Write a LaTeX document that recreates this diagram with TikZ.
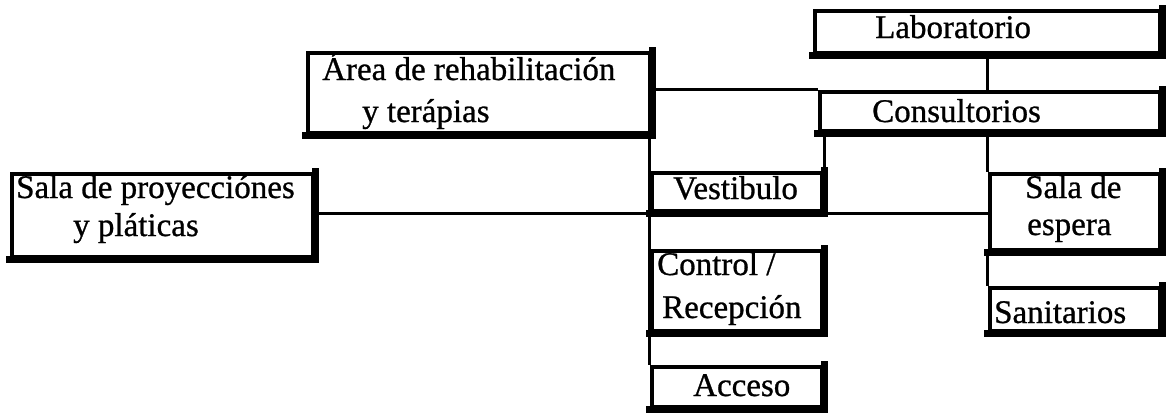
\documentclass[tikz,border=0pt]{standalone}
\usepackage{fontspec}
\setmainfont{Liberation Serif}
\newfontfamily\heavyserif{Liberation Serif}[FakeBold=0.8]
\usetikzlibrary{fit}
\tikzset{
  boxn/.style={draw, line width=4.6pt, inner sep=0pt},
  shd/.style={line width=6.5pt, line cap=rect},
  conn/.style={line width=3pt},
  lbl/.style={anchor=base west, inner sep=0pt, font=\heavyserif\fontsize{33}{38}\selectfont},
}
\newcommand\myshad[1]{\draw[shd] (#1.south west) -- (#1.south east) -- (#1.north east);}
\begin{document}
\begin{tikzpicture}[x=1pt,y=-1pt]
\useasboundingbox (0,0) rectangle (1167,418);

% boxes
\node[boxn, fit={(12,174) (313,257)}] (sala) {};
\node[boxn, fit={(308,53) (650,133)}] (area) {};
\node[boxn, fit={(815,11) (1160,53)}] (lab) {};
\node[boxn, fit={(820,92) (1160,131)}] (cons) {};
\node[boxn, fit={(652,173) (822,211)}] (vest) {};
\node[boxn, fit={(652,251) (822,331)}] (ctrl) {};
\node[boxn, fit={(652,367) (822,407)}] (acc) {};
\node[boxn, fit={(990,174) (1160,250)}] (esp) {};
\node[boxn, fit={(990,288) (1160,331)}] (san) {};

\foreach \b in {sala,area,lab,cons,vest,ctrl,acc,esp,san} {\myshad{\b}}

% connectors
\draw[conn] (area.east |- cons.north) -- (cons.north west);
\draw[conn] (lab.south) -- (lab.south |- cons.north);
\draw[conn] (vest.north east |- cons.south) -- (vest.north east);
\draw[conn] (esp.north west |- cons.south) -- (esp.north west);
\draw[conn] (esp.south west) -- (san.north west);
\draw[conn] (sala.east |- vest.south) -- (esp.west |- vest.south);
\draw[conn] (acc.north west |- area.south) -- (acc.north west);

% labels
\node[lbl] (tsala1) at (16,198) {Sala de proyecciónes};
\node[lbl] (tsala2) at (73,236) {y pláticas};
\node[lbl] (tarea1) at (322,80) {Área de rehabilitación};
\node[lbl] (tarea2) at (362,122) {y terápias};
\node[lbl] (tlab) at (875,38) {Laboratorio};
\node[lbl] (tcons) at (872,122) {Consultorios};
\node[lbl] (tvest) at (673,199) {Vestibulo};
\node[lbl] (tctrl1) at (657,275) {Control /};
\node[lbl] (tctrl2) at (662,318) {Recepción};
\node[lbl] (tacc) at (693,396) {Acceso};
\node[lbl] (tesp1) at (1025,198) {Sala de};
\node[lbl] (tesp2) at (1027,235) {espera};
\node[lbl] (tsan) at (994,323) {Sanitarios};
\end{tikzpicture}
\end{document}
